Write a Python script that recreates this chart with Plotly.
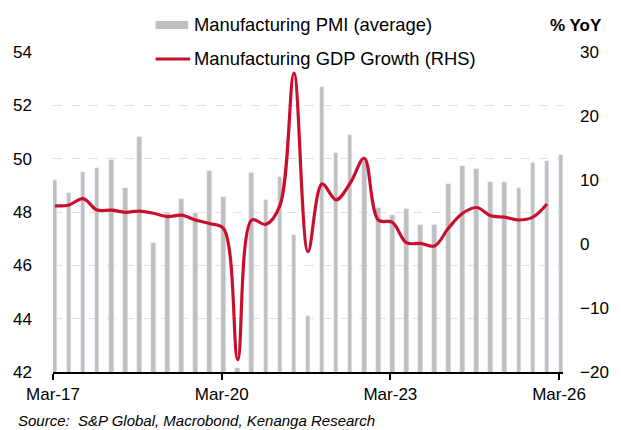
import plotly.graph_objects as go

# Quarterly data, Mar-17 .. Mar-26
quarters = list(range(37))
tick_labels = ["Mar-17", "Mar-20", "Mar-23", "Mar-26"]
tick_quarters = [0, 12, 24, 36]

pmi_avg = [49.2, 48.7, 49.5, 49.65, 49.95, 48.9, 50.8, 46.85, 47.95, 48.5,
           47.95, 49.55, 48.55, 42.15, 49.45, 48.45, 49.3, 47.15, 44.1, 52.7,
           50.2, 50.9, 49.9, 48.15, 47.9, 48.13, 47.5, 47.5, 49.04, 49.72,
           49.62, 49.12, 49.12, 48.91, 49.84, 49.92, 50.14]

mfg_gdp = [5.95, 6.1, 7.1, 5.3, 5.3, 4.95, 5.15, 4.8, 4.27, 4.5,
           3.75, 3.2, 2.4, -18.1, 3.75, 3.07, 6.0, 26.7, -1.2, 9.4,
           6.9, 9.5, 13.4, 3.75, 3.4, 0.2, 0.1, -0.3, 2.5, 4.8,
           5.7, 4.4, 4.2, 3.75, 4.2, 6.25, None]

FONT = "Liberation Sans, Arial, sans-serif"
GRAY = "#BFBFBF"
RED = "#C8102E"

# plot area in pixels
W, H = 621, 430
L, R, T, B = 53, 570, 52, 372
pw, ph = R - L, B - T


def px(x):
    return (x - L) / pw


def py(y):
    return (B - y) / ph


fig = go.Figure()
fig.add_trace(go.Bar(x=quarters, y=pmi_avg, marker_color=GRAY, width=0.33,
                     name="Manufacturing PMI (average)", showlegend=False))
fig.add_trace(go.Scatter(x=quarters, y=mfg_gdp, yaxis="y2", mode="lines",
                         line=dict(color=RED, width=3.2, shape="spline", smoothing=1.0),
                         name="Manufacturing GDP Growth (RHS)", showlegend=False,
                         connectgaps=False))

off = -0.14
fig.update_layout(
    width=W, height=H,
    margin=dict(l=L, r=W - R, t=T, b=H - B, pad=0),
    paper_bgcolor="white", plot_bgcolor="white",
    font=dict(family=FONT, size=17, color="#000000"),
    bargap=0,
    xaxis=dict(range=[-0.14, 36.14], tickmode="array",
               tickvals=[t + off for t in tick_quarters], ticktext=tick_labels,
               showgrid=False, zeroline=False, showline=True, linecolor="#000000",
               linewidth=1.5, ticks="outside", ticklen=6, tickwidth=1.5,
               tickcolor="#000000", tickfont=dict(size=17)),
    yaxis=dict(range=[42, 54], dtick=2, tick0=42, showgrid=True,
               gridcolor="#E0E0E0", griddash="dash", gridwidth=1,
               zeroline=False, showline=False, ticks="",
               ticklabelstandoff=20, tickfont=dict(size=17)),
    yaxis2=dict(range=[-20, 30], dtick=10, tick0=-20, overlaying="y", side="right",
                showgrid=False, zeroline=False, showline=False, ticks="",
                ticklabelstandoff=16, tickfont=dict(size=17)),
    showlegend=False,
)

shapes = [
    dict(type="rect", xref="paper", yref="paper",
         x0=px(157), x1=px(190), y0=py(29), y1=py(21),
         fillcolor=GRAY, line=dict(width=0)),
    dict(type="line", xref="paper", yref="paper",
         x0=px(157), x1=px(192), y0=py(59), y1=py(59),
         line=dict(color=RED, width=3.2)),
]
fig.update_layout(shapes=shapes)

annotations = [
    dict(text="Manufacturing PMI (average)", xref="paper", yref="paper",
         x=px(194), y=py(24), xanchor="left", yanchor="middle", showarrow=False,
         font=dict(size=18.4, family=FONT, color="#000000")),
    dict(text="Manufacturing GDP Growth (RHS)", xref="paper", yref="paper",
         x=px(194), y=py(58), xanchor="left", yanchor="middle", showarrow=False,
         font=dict(size=18.4, family=FONT, color="#000000")),
    dict(text="<b>% YoY</b>", xref="paper", yref="paper",
         x=px(583), y=py(26), xanchor="center", yanchor="middle", showarrow=False,
         font=dict(size=17, family=FONT, color="#000000")),
    dict(text="<i>Source:  S&P Global, Macrobond, Kenanga Research</i>", xref="paper",
         yref="paper", x=px(15), y=py(420), xanchor="left", yanchor="middle",
         showarrow=False, font=dict(size=15, family=FONT, color="#000000")),
]
fig.update_layout(annotations=annotations)

fig.write_html("out.html")
